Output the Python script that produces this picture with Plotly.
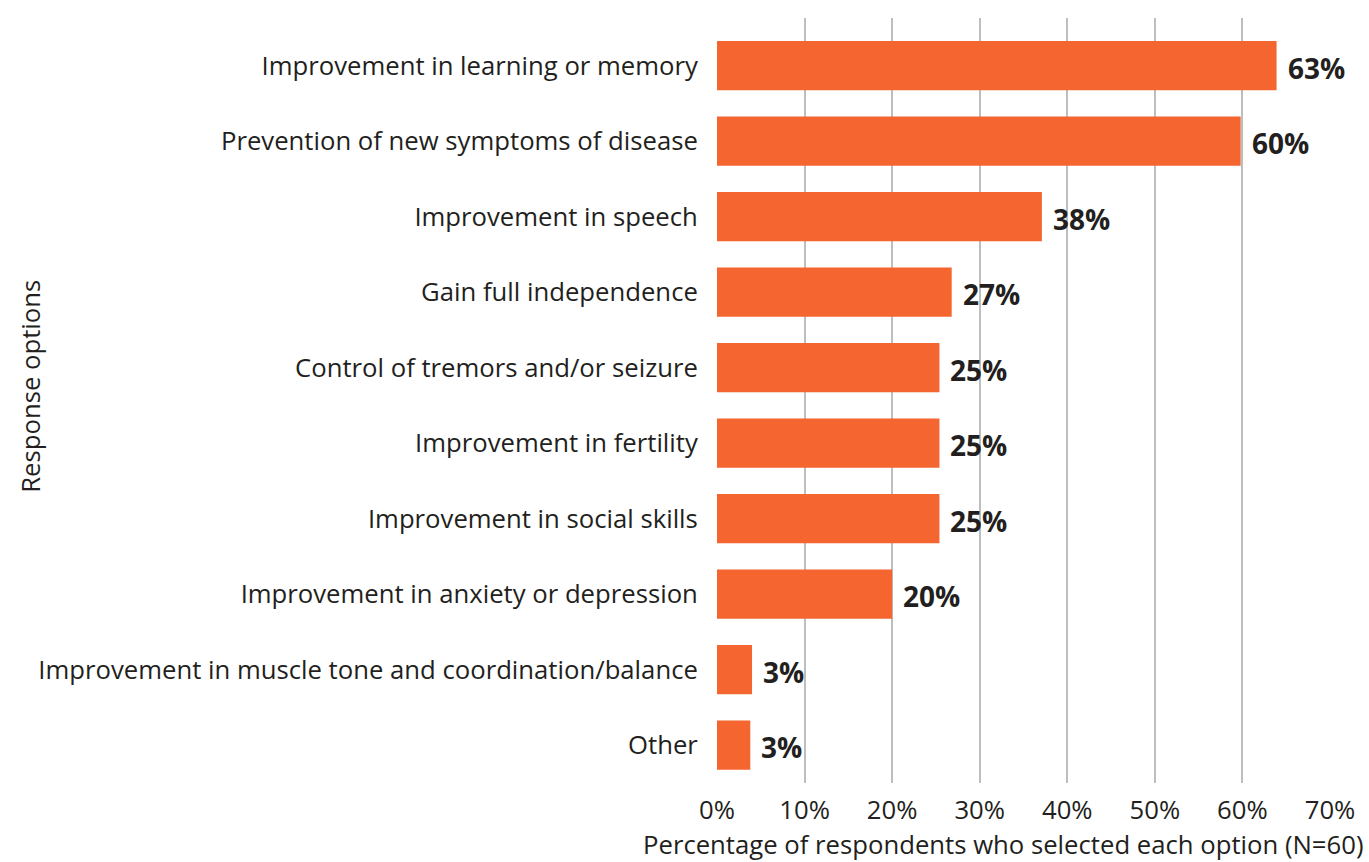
import plotly.graph_objects as go

categories = [
    "Improvement in learning or memory",
    "Prevention of new symptoms of disease",
    "Improvement in speech",
    "Gain full independence",
    "Control of tremors and/or seizure",
    "Improvement in fertility",
    "Improvement in social skills",
    "Improvement in anxiety or depression",
    "Improvement in muscle tone and coordination/balance",
    "Other",
]
values = [63.9, 59.8, 37.1, 26.8, 25.4, 25.4, 25.4, 20.0, 4.0, 3.8]
value_labels = ["63%", "60%", "38%", "27%", "25%", "25%", "25%", "20%", "3%", "3%"]
x_ticks = [0, 10, 20, 30, 40, 50, 60, 70]
x_tick_labels = ["0%", "10%", "20%", "30%", "40%", "50%", "60%", "70%"]

FONT = "Open Sans"
TXT = "#231f20"
ORANGE = "#f4652f"
FS = 25.7

fig = go.Figure()
fig.add_trace(go.Bar(
    x=values, y=categories, orientation="h",
    marker=dict(color=ORANGE, line=dict(width=0)),
    hoverinfo="skip",
))

for v, c, lab in zip(values, categories, value_labels):
    fig.add_annotation(x=v, y=c, text=f"<b>{lab}</b>", showarrow=False,
                       xanchor="left", yanchor="middle", xshift=9, yshift=-2,
                       font=dict(family=FONT, size=28, color=TXT))

fig.add_annotation(xref="paper", yref="paper", x=-1.119, y=0.518,
                   text="Response options", textangle=-90, showarrow=False,
                   xanchor="center", yanchor="middle",
                   font=dict(family=FONT, size=FS, color=TXT))
fig.add_annotation(xref="paper", yref="paper", x=0.4666, y=-0.081,
                   text="Percentage of respondents who selected each option (N=60)",
                   showarrow=False, xanchor="center", yanchor="middle",
                   font=dict(family=FONT, size=FS, color=TXT))

fig.update_layout(
    width=1369, height=862,
    margin=dict(l=717, r=39, t=18, b=79, autoexpand=False),
    paper_bgcolor="white", plot_bgcolor="white",
    showlegend=False, bargap=0.348,
    font=dict(family=FONT, size=FS, color=TXT),
)
fig.update_xaxes(range=[0, 70], tickvals=x_ticks, ticktext=x_tick_labels,
                 showgrid=True, gridcolor="#bcbec0", gridwidth=1.5,
                 zeroline=False, showline=False, automargin=False,
                 ticks="outside", ticklen=4, tickcolor="rgba(0,0,0,0)",
                 tickfont=dict(family=FONT, size=FS, color=TXT))
fig.update_yaxes(categoryorder="array", categoryarray=categories, range=[9.5, -0.63],
                 showgrid=False, zeroline=False, showline=False, automargin=False,
                 ticks="outside", ticklen=13, tickcolor="rgba(0,0,0,0)",
                 tickfont=dict(family=FONT, size=FS, color=TXT))

fig.write_html("out.html", config={"displayModeBar": False},
               post_script="document.body.style.margin='0';")
